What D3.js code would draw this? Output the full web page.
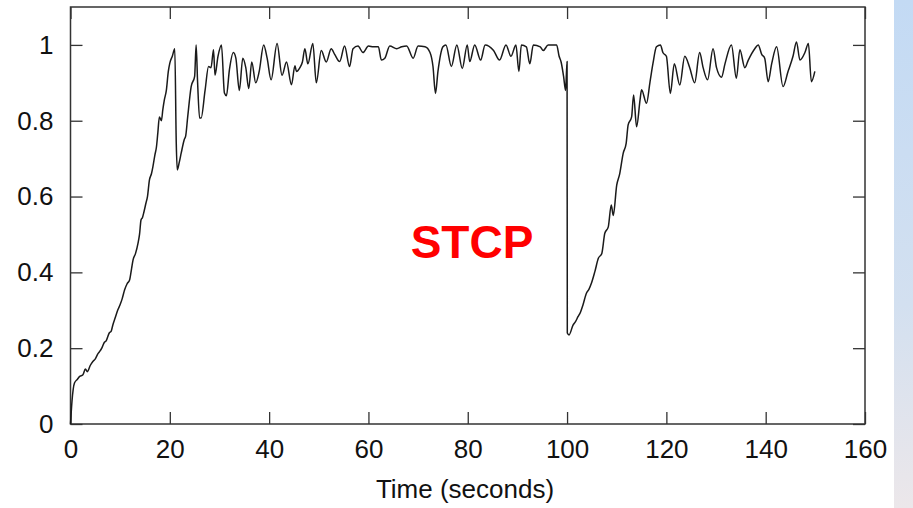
<!DOCTYPE html>
<html>
<head>
<meta charset="utf-8">
<script src="https://cdn.jsdelivr.net/npm/d3@7"></script>
<style>
  html, body { margin: 0; padding: 0; background: #fff; }
  svg { display: block; }
  text { font-family: "Liberation Sans", Arial, sans-serif; fill: #111; }
</style>
</head>
<body>
<svg id="chart" width="913" height="508"></svg>
<script>
// ---- data ----
const timeSec = [
  0, 0.3, 0.8, 1.4, 1.8, 2.5, 3.0, 3.4, 4.0, 4.5, 5.0, 5.5, 5.8, 6.3, 6.8, 7.2, 7.8, 8.2, 8.5, 9.0,
  9.5, 10.0, 10.4, 10.9, 11.4, 11.9, 12.3, 12.6, 13.1, 13.6, 13.9, 14.2, 14.5, 14.8, 15.2, 15.5, 15.9, 16.3, 16.6, 17.0,
  17.3, 17.6, 17.9, 18.3, 18.6, 18.9, 19.3, 19.7, 20.0, 20.5, 21.0, 21.3, 21.5, 21.9, 22.3, 22.9, 23.2, 23.6, 24.3, 25.0,
  25.3, 25.6, 26.0, 26.3, 27.1, 27.8, 28.3, 28.8, 29.1, 29.7, 30.4, 31.0, 31.4, 32.0, 32.8, 33.3, 34.0, 34.7, 35.3, 35.9,
  36.5, 37.3, 38.0, 38.9, 39.6, 40.4, 41.6, 42.6, 43.5, 44.5, 45.2, 45.5, 46.2, 46.7, 47.2, 47.8, 48.8, 49.5, 50.5, 51.5,
  52.5, 53.2, 54.2, 55.2, 56.2, 56.9, 57.9, 58.9, 60.0, 61.0, 62.0, 62.6, 63.3, 64.3, 65.7, 66.7, 67.7, 69.0, 70.0, 71.4,
  72.4, 73.0, 73.5, 74.0, 75.0, 75.6, 76.7, 77.8, 78.9, 79.9, 80.4, 81.4, 82.6, 83.5, 85.2, 86.4, 87.7, 88.7, 89.7, 90.3,
  90.8, 91.8, 92.5, 93.2, 94.6, 95.2, 96.2, 97.9, 98.4, 98.8, 99.3, 99.7, 100.0, 100.05, 100.4, 101.2, 101.7, 102.2, 102.7, 103.2,
  103.9, 104.4, 104.9, 105.6, 106.3, 107.0, 107.6, 108.3, 108.9, 109.3, 110.0, 110.6, 111.3, 111.9, 112.3, 113.0, 113.4, 114.0, 114.7, 115.0,
  116.0, 116.7, 117.3, 118.0, 118.8, 119.3, 120.0, 120.8, 121.6, 122.7, 123.7, 124.7, 125.7, 126.7, 127.4, 128.3, 129.4, 130.1, 131.1, 131.8,
  133.1, 134.1, 134.8, 135.8, 136.5, 137.8, 138.5, 139.2, 139.8, 140.5, 141.2, 142.2, 143.5, 144.5, 145.5, 146.2, 146.9, 147.9, 148.6, 149.2,
  149.9
];
const utilization = [
  0.0, 0.06, 0.108, 0.118, 0.125, 0.13, 0.145, 0.138, 0.155, 0.165, 0.172, 0.185, 0.19, 0.2, 0.215, 0.22, 0.24, 0.245, 0.26, 0.28,
  0.30, 0.315, 0.33, 0.354, 0.37, 0.38, 0.41, 0.433, 0.45, 0.477, 0.5, 0.538, 0.545, 0.56, 0.583, 0.6, 0.644, 0.66, 0.679, 0.71,
  0.73, 0.77, 0.81, 0.80, 0.83, 0.855, 0.88, 0.93, 0.952, 0.97, 0.99, 0.74, 0.67, 0.69, 0.715, 0.75, 0.76, 0.81, 0.89, 0.917,
  1.0, 0.9, 0.807, 0.807, 0.88, 0.943, 0.94, 0.987, 0.92, 0.97, 1.0, 0.873, 0.866, 0.934, 0.98, 0.965, 0.88, 0.965, 0.94, 0.885,
  0.955, 0.9, 0.93, 1.0, 0.965, 0.908, 1.004, 0.92, 0.955, 0.895, 0.945, 0.93, 0.94, 0.955, 0.99, 0.95, 1.004, 0.9, 0.985, 0.955,
  0.99, 0.975, 0.956, 0.997, 0.943, 0.99, 0.997, 0.98, 0.997, 0.995, 0.995, 0.96, 0.965, 0.997, 0.99, 0.995, 0.997, 0.965, 0.997, 0.995,
  0.98, 0.943, 0.872, 0.93, 0.995, 1.0, 0.943, 1.0, 0.938, 1.0, 0.956, 1.0, 0.96, 1.0, 0.985, 0.96, 1.0, 0.97, 1.0, 0.93,
  1.0, 0.995, 0.95, 1.0, 0.995, 0.985, 1.0, 1.0, 0.97, 0.955, 0.917, 0.88, 0.956, 0.24, 0.235, 0.261, 0.27, 0.283, 0.295, 0.314,
  0.345, 0.355, 0.371, 0.402, 0.437, 0.45, 0.503, 0.52, 0.578, 0.55, 0.63, 0.66, 0.714, 0.74, 0.789, 0.81, 0.868, 0.784, 0.855, 0.882,
  0.846, 0.902, 0.951, 0.995, 1.0, 0.98, 0.97, 0.872, 0.95, 0.894, 0.97, 0.94, 0.9, 0.98, 0.94, 0.908, 0.99, 0.94, 0.915, 0.95,
  1.0, 0.912, 0.987, 0.94, 0.96, 0.99, 1.0, 0.975, 0.965, 0.903, 0.95, 0.995, 0.89, 0.93, 0.97, 1.008, 0.96, 0.98, 1.004, 0.903,
  0.93
];
const xTicks = [0, 20, 40, 60, 80, 100, 120, 140, 160];
const yTicks = [0, 0.2, 0.4, 0.6, 0.8, 1];
const xLabel = "Time (seconds)";
const annotation = "STCP";

// ---- layout ----
const svg = d3.select("#chart");
const mLeft = 70.5, mRight = 865, mTop = 7, mBottom = 424;

const x = d3.scaleLinear().domain([0, 160]).range([mLeft, mRight]);
const y = d3.scaleLinear().domain([0, 1.1]).range([mBottom, mTop]);

// right decorative strip
const defs = svg.append("defs");
const grad = defs.append("linearGradient").attr("id", "strip")
  .attr("x1", 0).attr("y1", 0).attr("x2", 0).attr("y2", 1);
grad.append("stop").attr("offset", "0%").attr("stop-color", "#c3daf4");
grad.append("stop").attr("offset", "60%").attr("stop-color", "#d3e0f0");
grad.append("stop").attr("offset", "100%").attr("stop-color", "#ece7ea");
svg.append("rect").attr("x", 894).attr("y", 0).attr("width", 19).attr("height", 508)
  .attr("fill", "url(#strip)");

function styleAxis(g) {
  g.select(".domain").remove();
  g.selectAll(".tick line").attr("stroke", "#333").attr("stroke-width", 1.3);
  g.selectAll(".tick text").style("font-size", "26px").attr("fill", "#111");
}

// axes with inward ticks
svg.append("g").attr("transform", `translate(0,${mBottom})`)
  .call(d3.axisBottom(x).tickValues(xTicks).tickFormat(d => String(d)).tickSize(-12).tickPadding(16))
  .call(styleAxis);
svg.append("g").attr("transform", `translate(0,${mTop})`)
  .call(d3.axisTop(x).tickValues(xTicks).tickFormat("").tickSize(-12))
  .call(styleAxis);
svg.append("g").attr("transform", `translate(${mLeft},0)`)
  .call(d3.axisLeft(y).tickValues(yTicks).tickFormat(d => String(d)).tickSize(-12).tickPadding(17))
  .call(styleAxis);
svg.append("g").attr("transform", `translate(${mRight},0)`)
  .call(d3.axisRight(y).tickValues(yTicks).tickFormat("").tickSize(-12))
  .call(styleAxis);

// frame
svg.append("rect").attr("x", mLeft).attr("y", mTop)
  .attr("width", mRight - mLeft).attr("height", mBottom - mTop)
  .attr("fill", "none").attr("stroke", "#333").attr("stroke-width", 1.5);

// series line
const pts = timeSec.map((t, i) => [t, utilization[i]]);
svg.append("path")
  .datum(pts)
  .attr("fill", "none")
  .attr("stroke", "#1a1a1a")
  .attr("stroke-width", 1.5)
  .attr("stroke-linejoin", "round")
  .attr("d", d3.line().curve(d3.curveMonotoneX).x(d => x(d[0])).y(d => y(d[1])));

// axis title
svg.append("text")
  .attr("x", 465).attr("y", 498)
  .attr("text-anchor", "middle")
  .style("font-size", "26px")
  .text(xLabel);

// annotation
svg.append("text")
  .attr("x", 472).attr("y", 258)
  .attr("text-anchor", "middle")
  .style("font-size", "46px")
  .style("font-weight", "bold")
  .style("fill", "#ff0000")
  .text(annotation);
</script>
</body>
</html>
